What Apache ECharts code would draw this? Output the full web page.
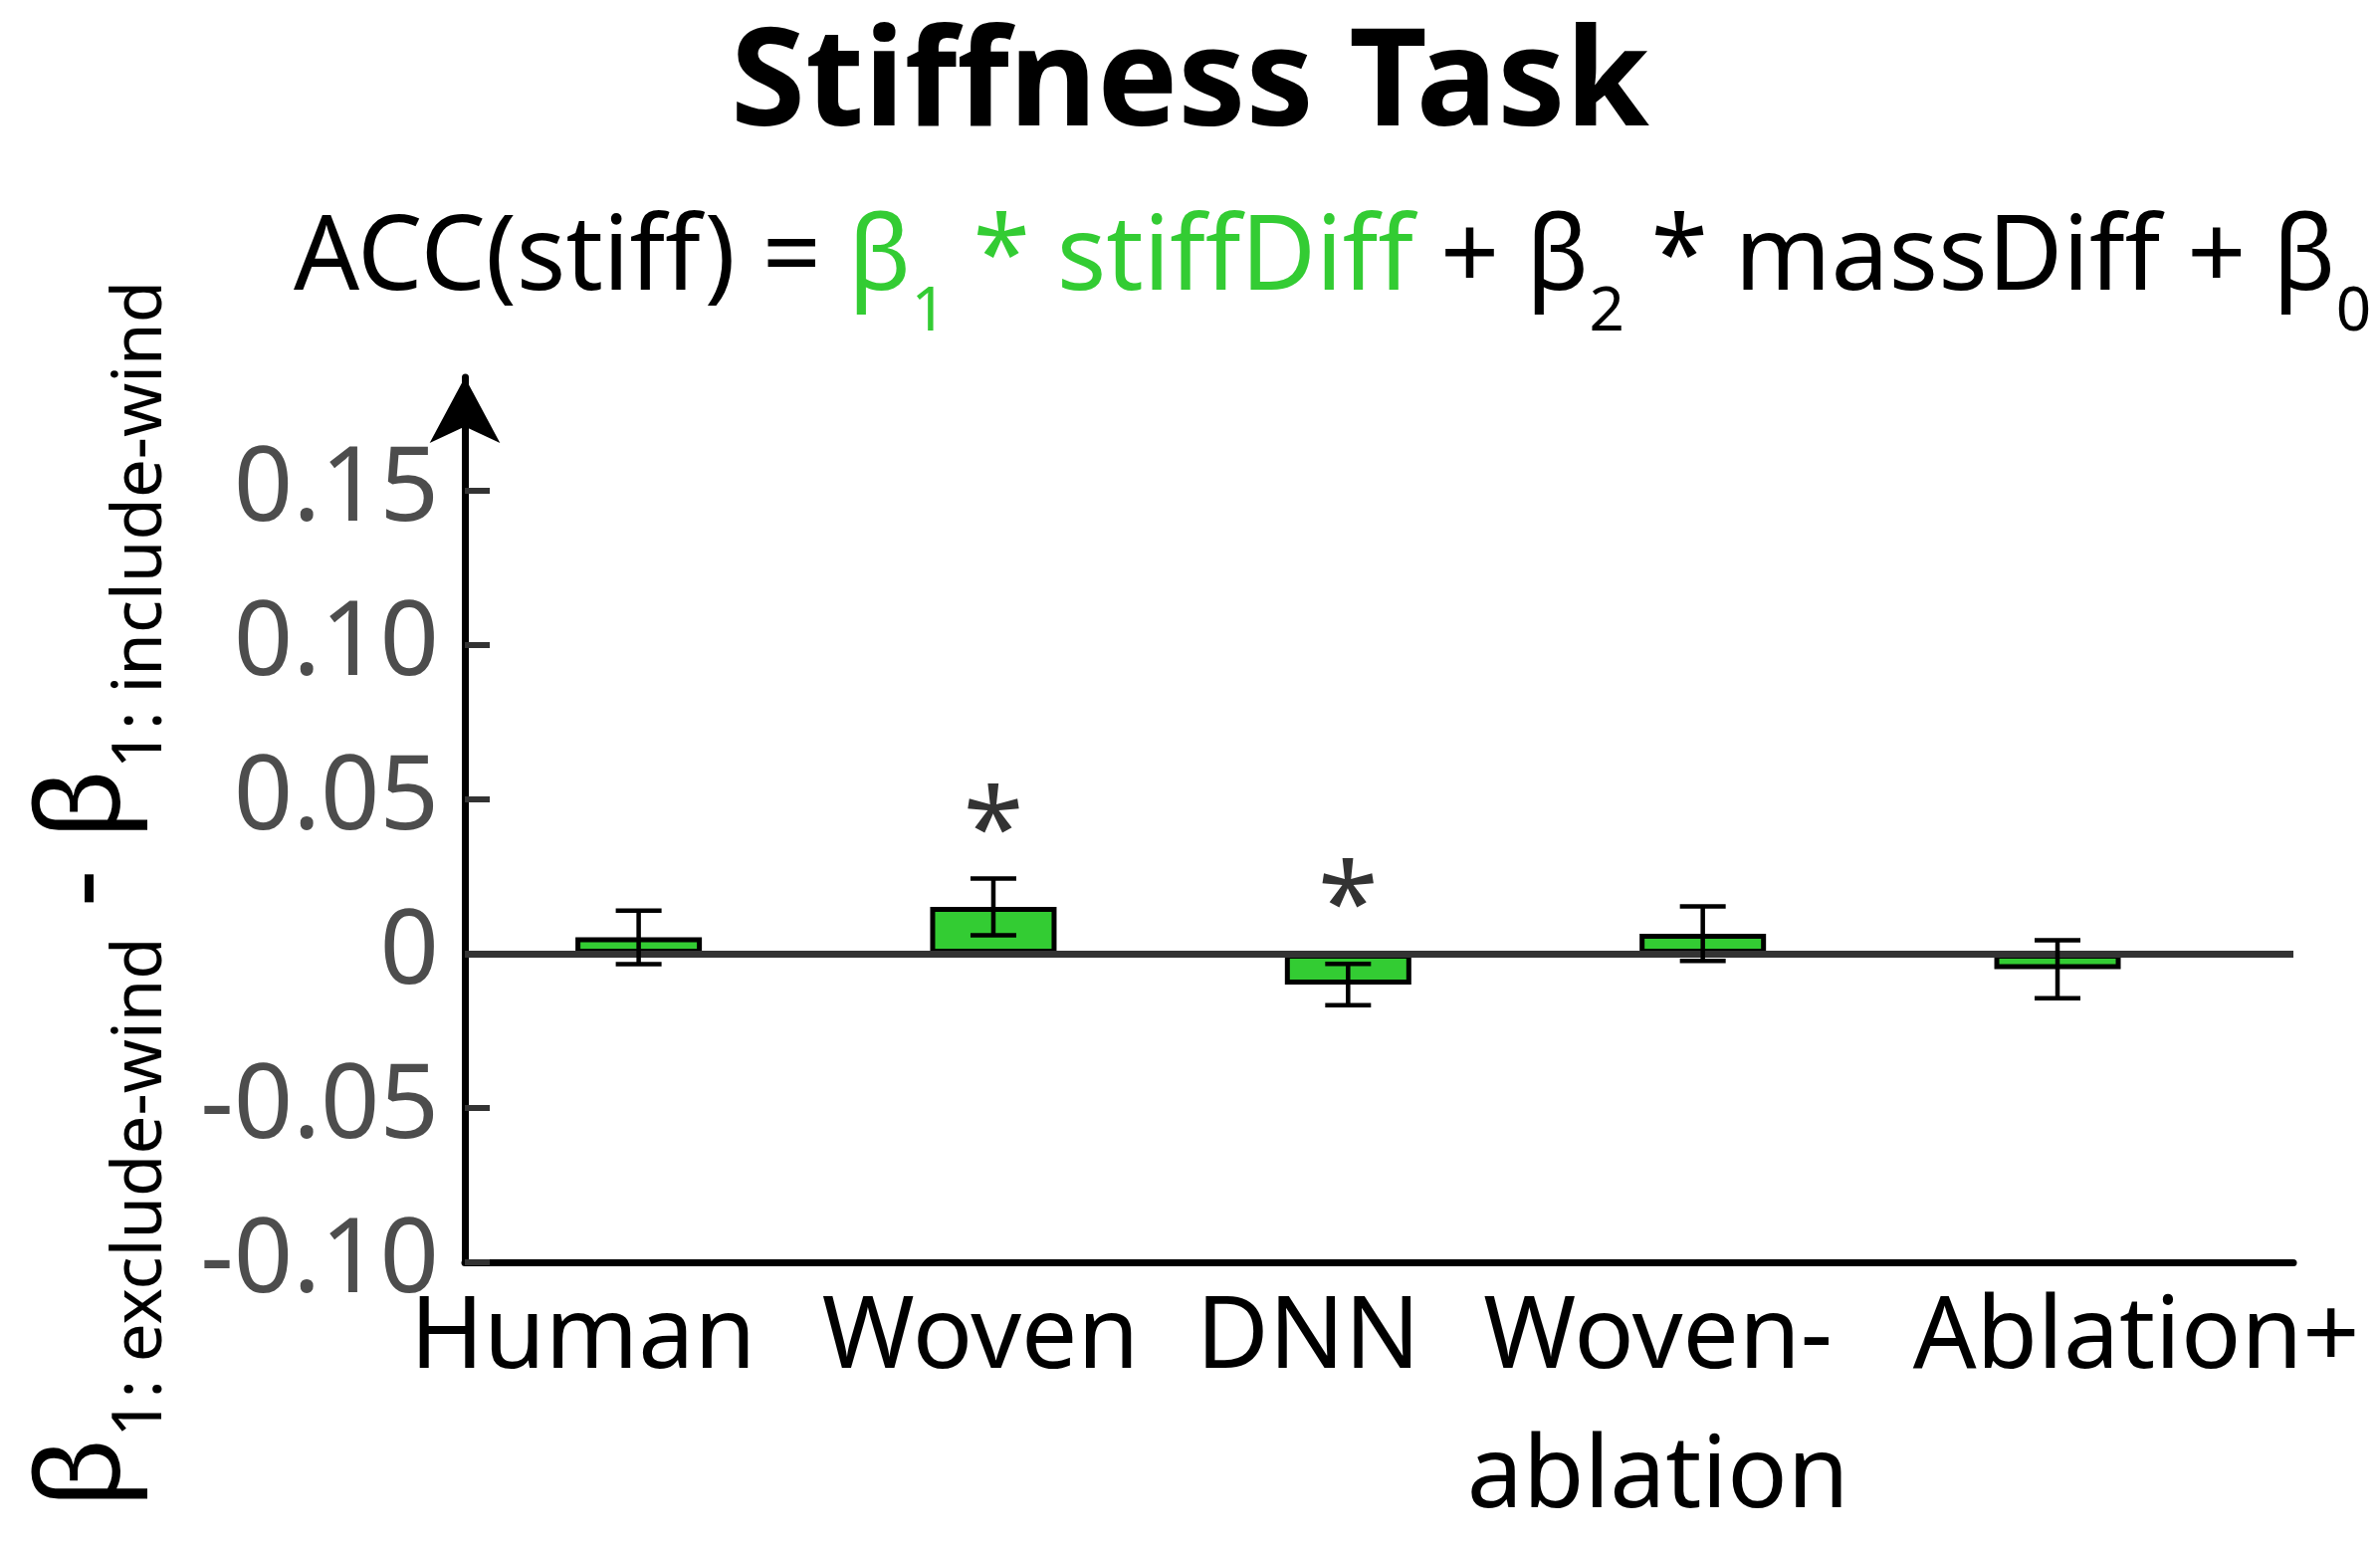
<!DOCTYPE html>
<html>
<head>
<meta charset="utf-8">
<script src="https://cdn.jsdelivr.net/npm/echarts@6/dist/echarts.min.js"></script>
<style>
  html, body { margin: 0; padding: 0; background: #fff; }
  #chart { width: 2391px; height: 1556px; }
</style>
</head>
<body>
<div id="chart"></div>
<script>
// data
const categories = ['Human', 'Woven', 'DNN', 'Woven-\nablation', 'Ablation+'];
const positions = [1, 2, 3, 4, 5];
const means = [0.0053, 0.0152, -0.0100, 0.0065, -0.0050];
const errors = [0.0087, 0.0092, 0.0067, 0.0088, 0.0094];
const significant = [false, true, true, false, false];
const yTicks = [-0.10, -0.05, 0, 0.05, 0.10, 0.15];

// layout
const WIDTH = 2391;
const GRID = { left: 467, right: 87, top: 379, bottom: 284 };
const X_MIN = 0.51, X_MAX = 5.665;
// label nudges (px) so the names sit where the original put them
const labelShift = [-56, -13, -40, -45, 79];
const pxPerUnit = (WIDTH - GRID.left - GRID.right) / (X_MAX - X_MIN);
const labelPos = positions.map((p, i) => p + labelShift[i] / pxPerUnit);

const FONT = 'Noto Sans';
const GREEN = '#33cc33';

const chart = echarts.init(document.getElementById('chart'));

const barData = positions.map((p, i) => [p, means[i]]);
const errData = positions.map((p, i) => [p, means[i] - errors[i], means[i] + errors[i], significant[i] ? 1 : 0]);

const main = { fontFamily: FONT, fontSize: 103.5, fontWeight: 'normal', lineHeight: 166 };
const sub = { fontFamily: FONT, fontSize: 62, fontWeight: 'normal', lineHeight: 62, verticalAlign: 'bottom' };

function nearest(v) {
  let best = 0;
  labelPos.forEach((p, i) => { if (Math.abs(p - v) < Math.abs(labelPos[best] - v)) best = i; });
  return best;
}

const option = {
  backgroundColor: '#fff',
  animation: false,
  title: [
    {
      text: 'Stiffness Task',
      left: 'center',
      top: 14,
      textStyle: { fontFamily: FONT, fontSize: 136, fontWeight: 'bold', color: '#000' }
    },
    {
      text: '{k|ACC(stiff) = }{g|β}{gs|1}{g| * stiffDiff}{k| + β}{ks|2}{k| * massDiff + β}{ks|0}',
      left: 290,
      top: 174,
      textStyle: {
        fontWeight: 'normal',
        rich: {
          k: Object.assign({ color: '#000' }, main),
          g: Object.assign({ color: GREEN }, main),
          ks: Object.assign({ color: '#000' }, sub),
          gs: Object.assign({ color: GREEN }, sub)
        }
      }
    }
  ],
  grid: GRID,
  xAxis: {
    type: 'value',
    min: X_MIN,
    max: X_MAX,
    splitLine: { show: false },
    axisLine: { onZero: false, lineStyle: { color: '#000', width: 7 } },
    axisTick: { show: false },
    axisLabel: {
      customValues: labelPos,
      showMinLabel: true,
      showMaxLabel: true,
      hideOverlap: false,
      margin: 8,
      fontFamily: FONT,
      fontSize: 100,
      lineHeight: 140,
      color: '#000',
      formatter: v => categories[nearest(v)]
    }
  },
  yAxis: {
    type: 'value',
    min: -0.10,
    max: 0.1868,
    splitLine: { show: false },
    axisLine: {
      onZero: false,
      symbol: ['none', 'arrow'],
      symbolSize: [53, 66],
      lineStyle: { color: '#000', width: 7 }
    },
    axisTick: {
      inside: true, length: 25, customValues: yTicks,
      lineStyle: { color: '#333', width: 6 }
    },
    axisLabel: {
      customValues: yTicks,
      showMinLabel: true,
      margin: 26,
      fontFamily: FONT,
      fontSize: 104,
      color: '#4d4d4d',
      formatter: v => (v === 0 ? '0' : v.toFixed(2))
    },
    name: '{b|β}{s|1: exclude-wind}{b| - β}{s|1: include-wind}',
    nameLocation: 'middle',
    nameGap: 290,
    nameRotate: 90,
    nameTextStyle: {
      padding: [0, 150, 0, 0],
      rich: {
        b: { fontFamily: FONT, fontSize: 116, color: '#000', lineHeight: 180 },
        s: { fontFamily: FONT, fontSize: 69, color: '#000', lineHeight: 69, verticalAlign: 'bottom' }
      }
    }
  },
  series: [
    {
      type: 'bar',
      data: barData,
      barWidth: 127,
      itemStyle: { color: GREEN, borderColor: '#000', borderWidth: 5 },
      markLine: {
        silent: true,
        symbol: 'none',
        label: { show: false },
        lineStyle: { color: '#333', width: 7, type: 'solid' },
        data: [{ yAxis: 0 }]
      },
      z: 2
    },
    {
      type: 'custom',
      data: errData,
      encode: { x: 0, y: [1, 2] },
      z: 5,
      renderItem: function (params, api) {
        const x = api.value(0);
        const top = api.coord([x, api.value(2)]);
        const bot = api.coord([x, api.value(1)]);
        const zeroY = api.coord([x, 0])[1];
        const half = 23;
        const st = { stroke: '#000', lineWidth: 4.5 };
        const children = [
          { type: 'line', shape: { x1: top[0], y1: top[1], x2: bot[0], y2: bot[1] }, style: st },
          { type: 'line', shape: { x1: top[0] - half, y1: top[1], x2: top[0] + half, y2: top[1] }, style: st },
          { type: 'line', shape: { x1: bot[0] - half, y1: bot[1], x2: bot[0] + half, y2: bot[1] }, style: st }
        ];
        if (api.value(3)) {
          children.push({
            type: 'text',
            x: top[0],
            y: Math.min(top[1], zeroY) - 43,
            style: {
              text: '*', fontFamily: FONT, fontSize: 110, fill: '#333',
              align: 'center', verticalAlign: 'middle'
            }
          });
        }
        return { type: 'group', children: children };
      }
    }
  ]
};

chart.setOption(option);
</script>
</body>
</html>
